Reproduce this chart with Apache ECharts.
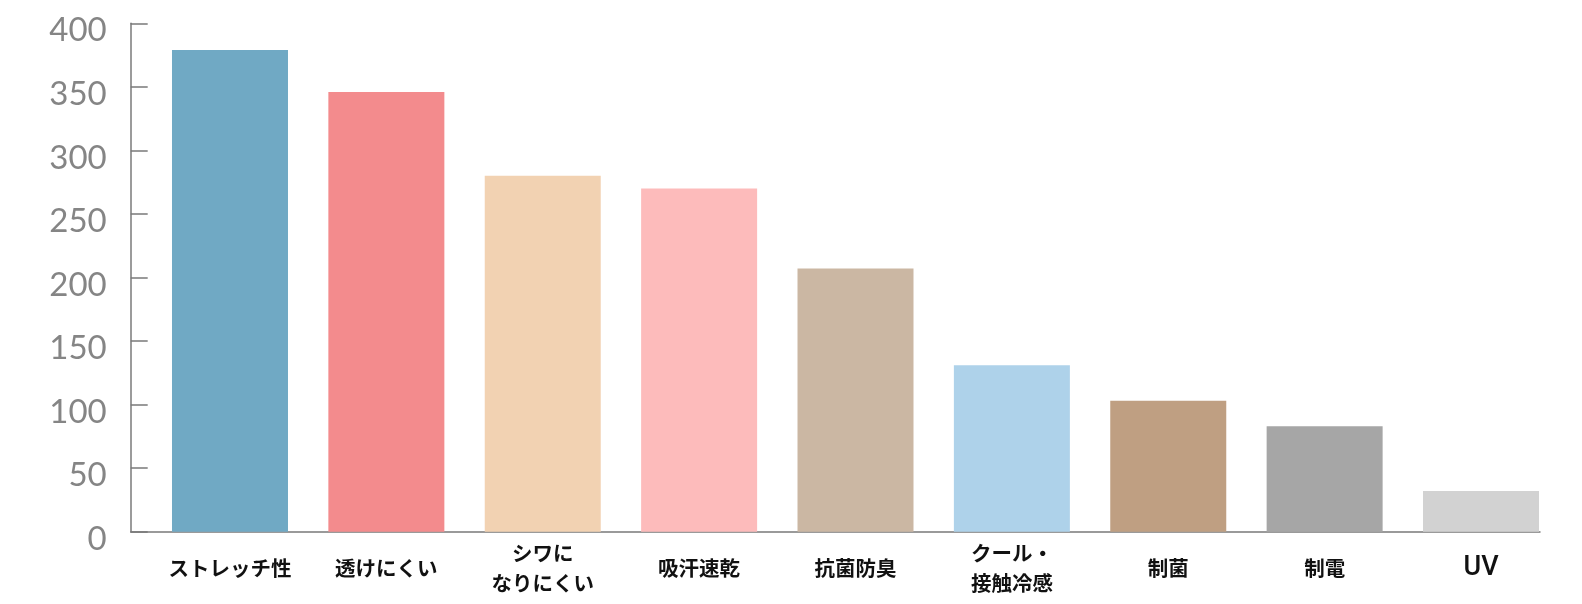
<!DOCTYPE html>
<html>
<head>
<meta charset="utf-8">
<script src="https://cdn.jsdelivr.net/npm/echarts@6/dist/echarts.min.js"></script>
<style>
html,body{margin:0;padding:0;background:#fff;}
#chart{width:1582px;height:604px;}
</style>
</head>
<body>
<div id="chart"></div>
<script>
const categories = ['ストレッチ性', '透けにくい', 'シワに\nなりにくい', '吸汗速乾', '抗菌防臭', 'クール・\n接触冷感', '制菌', '制電', 'UV'];
const values = [379, 346, 280, 270, 207, 131, 103, 83, 32];
const barColors = ['#70a9c4', '#f38b8d', '#f2d2b2', '#fdbbbb', '#cbb7a3', '#aed2ea', '#bf9f82', '#a6a6a6', '#d2d2d2'];
const yMin = 0, yMax = 400, yStep = 50;

const chart = echarts.init(document.getElementById('chart'), null, {renderer: 'canvas'});
const axisColor = '#7a7a7a';
chart.setOption({
  animation: false,
  grid: [
    {left: 130.7, right: 42, top: 23.3, bottom: 72.3},
    {left: 151.8, right: 22.8, top: 23.3, bottom: 72.3}
  ],
  xAxis: [
    {
      gridIndex: 0, type: 'category', data: categories,
      axisLine: {show: true, lineStyle: {color: axisColor, width: 1.5}},
      axisTick: {show: false}, axisLabel: {show: false}
    },
    {
      gridIndex: 1, type: 'category', data: categories,
      axisLine: {show: false}, axisTick: {show: false},
      axisLabel: {
        show: true, interval: 0, margin: 37, verticalAlign: 'middle',
        color: '#111', fontSize: 20.5, fontWeight: 'bold', lineHeight: 30,
        fontFamily: '"Noto Sans CJK JP", sans-serif',
        formatter: v => /^[A-Za-z]+$/.test(v) ? '{u|' + v + '}' : v,
        rich: {
          u: {fontSize: 27, fontWeight: 500, color: '#111', fontFamily: 'Roboto, "Noto Sans", sans-serif', lineHeight: 30}
        }
      }
    }
  ],
  yAxis: [
    {
      gridIndex: 0, type: 'value', min: yMin, max: yMax, interval: yStep,
      axisLine: {show: true, lineStyle: {color: axisColor, width: 1.5}},
      axisTick: {show: true, inside: true, length: 17, lineStyle: {color: axisColor, width: 1.5}},
      splitLine: {show: false},
      axisLabel: {
        margin: 24,
        formatter: '{n|{value}}',
        rich: {
          n: {
            color: '#858585', fontSize: 33, fontWeight: 'normal',
            fontFamily: 'Lato, "Open Sans", sans-serif', padding: [15, 0, 0, 0]
          }
        }
      }
    },
    {
      gridIndex: 1, type: 'value', min: yMin, max: yMax, interval: yStep, show: false
    }
  ],
  series: [{
    type: 'bar', xAxisIndex: 1, yAxisIndex: 1,
    data: values.map((v, i) => ({value: v, itemStyle: {color: barColors[i]}})),
    barWidth: 116
  }]
});
</script>
</body>
</html>
